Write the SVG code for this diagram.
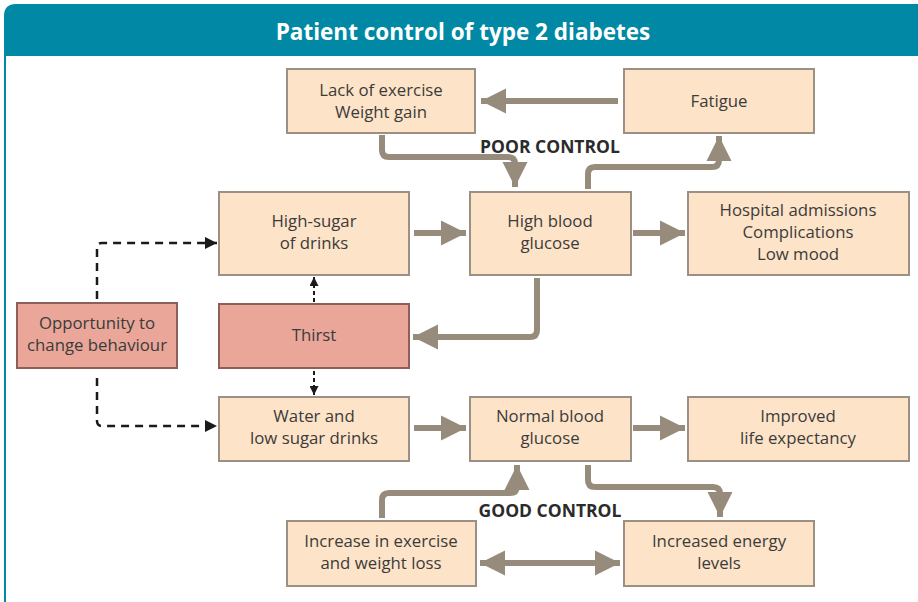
<svg xmlns="http://www.w3.org/2000/svg" width="918" height="602" viewBox="0 0 918 602">
<defs>
<style>
.box{fill:#fde3c7;stroke:#9b9083;stroke-width:2}
.pink{fill:#e9a699;stroke:#8e5f58;stroke-width:2}
.t{font-family:"Open Sans","Liberation Sans",sans-serif;font-size:16.8px;fill:#3b3b3b;text-anchor:middle}
.b{font-family:"Open Sans","Liberation Sans",sans-serif;font-size:17.5px;font-weight:bold;fill:#2b2b2b;text-anchor:middle}
.c{fill:none;stroke:#978b7c;stroke-width:6;stroke-linejoin:round}
.d{fill:none;stroke:#1a1a1a;stroke-width:2.5;stroke-dasharray:8,6}
.d2{fill:none;stroke:#1a1a1a;stroke-width:2;stroke-dasharray:4,3}
</style>
<marker id="ah" viewBox="0 0 10 10" refX="10" refY="5" markerWidth="4.2" markerHeight="4.2" markerUnits="strokeWidth" orient="auto-start-reverse"><path d="M0,0L10,5L0,10z" fill="#978b7c"/></marker>
<marker id="dh" viewBox="0 0 10 10" refX="10" refY="5" markerWidth="5" markerHeight="5" markerUnits="strokeWidth" orient="auto-start-reverse"><path d="M0,0L10,5L0,10z" fill="#1a1a1a"/></marker>
<marker id="dh2" viewBox="0 0 10 10" refX="10" refY="5" markerWidth="4.5" markerHeight="4.5" markerUnits="strokeWidth" orient="auto"><path d="M0,0L10,5L0,10z" fill="#1a1a1a"/></marker>
</defs>
<rect width="918" height="602" fill="#ffffff"/>
<g id="frame">
<path d="M4,56 L4,16 Q4,4 16,4 L918,4 L918,56 Z" fill="#0088a4"/>
<line x1="5" y1="56" x2="5" y2="602" stroke="#0088a4" stroke-width="2"/>
<text x="463" y="40" font-family="Open Sans, Liberation Sans, sans-serif" font-size="22.5" font-weight="bold" fill="#ffffff" text-anchor="middle">Patient control of type 2 diabetes</text>
</g>
<g id="connectors">
<path class="c" d="M618,101 L481,101" marker-end="url(#ah)"/>
<path class="c" d="M382,135 L382,150 Q382,157 389,157 L508,157 Q515,157 515,164 L515,187" marker-end="url(#ah)"/>
<path class="c" d="M588,189 L588,174 Q588,167 595,167 L712,167 Q719,167 719,160 L719,136" marker-end="url(#ah)"/>
<path class="c" d="M414,233 L466,233" marker-end="url(#ah)"/>
<path class="c" d="M633,233 L685,233" marker-end="url(#ah)"/>
<path class="c" d="M537,278 L537,330 Q537,337 530,337 L413,337" marker-end="url(#ah)"/>
<path class="c" d="M414,428 L466,428" marker-end="url(#ah)"/>
<path class="c" d="M633,428 L685,428" marker-end="url(#ah)"/>
<path class="c" d="M382,518 L382,500 Q382,493 389,493 L510,493 Q517,493 517,486 L517,465" marker-end="url(#ah)"/>
<path class="c" d="M588,465 L588,480 Q588,487 595,487 L713,487 Q720,487 720,494 L720,517" marker-end="url(#ah)"/>
<path class="c" d="M480,563 L620,563" marker-start="url(#ah)" marker-end="url(#ah)"/>
<path class="d" d="M97,299 L97,248 Q97,243 102,243 L217,243" marker-end="url(#dh)"/>
<path class="d" d="M97,378 L97,421 Q97,426 102,426 L217,426" marker-end="url(#dh)"/>
<path class="d2" d="M314,302 L314,277" marker-end="url(#dh2)"/>
<path class="d2" d="M314,371 L314,395" marker-end="url(#dh2)"/>
</g>
<g id="lack"><rect class="box" x="287" y="69" width="188" height="64"/><text class="t" x="381" y="96">Lack of exercise</text><text class="t" x="381" y="118">Weight gain</text></g>
<g id="fatigue"><rect class="box" x="624" y="69" width="190" height="64"/><text class="t" x="719" y="107">Fatigue</text></g>
<g id="poor"><text class="b" x="550" y="153">POOR CONTROL</text></g>
<g id="highsugar"><rect class="box" x="219" y="192" width="190" height="83"/><text class="t" x="314" y="227">High-sugar</text><text class="t" x="314" y="249">of drinks</text></g>
<g id="highblood"><rect class="box" x="470" y="192" width="161" height="83"/><text class="t" x="550" y="227">High blood</text><text class="t" x="550" y="249">glucose</text></g>
<g id="hospital"><rect class="box" x="688" y="192" width="221" height="83"/><text class="t" x="798" y="216">Hospital admissions</text><text class="t" x="798" y="238">Complications</text><text class="t" x="798" y="260">Low mood</text></g>
<g id="opportunity"><rect class="pink" x="17" y="303" width="160" height="65"/><text class="t" x="97" y="329">Opportunity to</text><text class="t" x="97" y="351">change behaviour</text></g>
<g id="thirst"><rect class="pink" x="219" y="304" width="190" height="64"/><text class="t" x="314" y="341">Thirst</text></g>
<g id="water"><rect class="box" x="219" y="397" width="190" height="64"/><text class="t" x="314" y="422">Water and</text><text class="t" x="314" y="444">low sugar drinks</text></g>
<g id="normal"><rect class="box" x="470" y="397" width="161" height="64"/><text class="t" x="550" y="422">Normal blood</text><text class="t" x="550" y="444">glucose</text></g>
<g id="improved"><rect class="box" x="688" y="397" width="221" height="64"/><text class="t" x="798" y="422">Improved</text><text class="t" x="798" y="444">life expectancy</text></g>
<g id="good"><text class="b" x="550" y="517">GOOD CONTROL</text></g>
<g id="increase"><rect class="box" x="287" y="521" width="189" height="65"/><text class="t" x="381" y="547">Increase in exercise</text><text class="t" x="381" y="569">and weight loss</text></g>
<g id="energy"><rect class="box" x="624" y="521" width="190" height="65"/><text class="t" x="719" y="547">Increased energy</text><text class="t" x="719" y="569">levels</text></g>
</svg>
